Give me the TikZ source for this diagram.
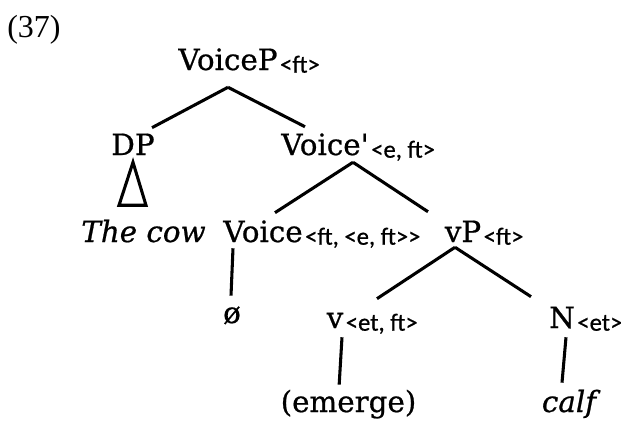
\documentclass[tikz,border=0pt]{standalone}
\usepackage{fontspec}
\setmainfont{DejaVu Serif}[FakeBold=0.7]
\newfontfamily\typefont{Carlito}[FakeBold=0.7]
\newfontfamily\numfont{Liberation Serif}
\usetikzlibrary{positioning}

\tikzset{
  cat/.style={inner sep=0pt, anchor=base, text height=16pt, text depth=0pt,
    font=\fontsize{22}{26}\selectfont},
  word/.style={cat, font=\fontsize{22}{26}\selectfont\itshape},
  typ/.style={inner sep=0pt, anchor=base west, xshift=1.5pt, yshift=-2pt,
    font=\typefont\fontsize{18.5}{22}\selectfont},
  branch/.style={line width=2.3pt},
}

\begin{document}
\begin{tikzpicture}[x=0.75pt, y=-0.75pt]
    \useasboundingbox (0,0) rectangle (621,422);

    % numero of the example
    \node[anchor=base, inner sep=0pt, font=\numfont\fontsize{24}{28}\selectfont] (ex) at (34,37) {(37)};

    % =================================================================
    % 1. CATEGORY LABELS
    % =================================================================
    \node[cat] (voicep) at (228,70) {VoiceP};
    \node[cat] (dp) at (133,155) {DP};
    \node[cat] (voicebar) at (325,155) {Voice\textquotesingle};
    \node[word] (cow) at (143.5,242) {The cow};
    \node[cat] (voice) at (263,242) {Voice};
    \node[cat] (vp) at (463,242) {vP};
    \node[cat] (null) at (232,323) {ø};
    \node[cat] (v) at (335,328) {v};
    \node[cat] (n) at (562,328) {N};
    \node[cat] (emerge) at (348.5,412) {(emerge)};
    \node[word] (calf) at (569,412) {calf};

    % semantic types
    \node[typ] (voicep-t) at (voicep.base east) {<ft>};
    \node[typ] (voicebar-t) at (voicebar.base east) {<e, ft>};
    \node[typ] (voice-t) at (voice.base east) {<ft, <e, ft>>};
    \node[typ] (vp-t) at (vp.base east) {<ft>};
    \node[typ] (v-t) at (v.base east) {<et, ft>};
    \node[typ] (n-t) at (n.base east) {<et>};

    % =================================================================
    % 2. BRANCHES
    % =================================================================
    \draw[branch] ([yshift=-12.75pt]voicep.south) -- ([xshift=14.25pt, yshift=4.3pt]dp.north);
    \draw[branch] ([yshift=-12.75pt]voicep.south) -- ([xshift=-15pt, yshift=5pt]voicebar.north);
    % triangle under DP
    \draw[branch] ([yshift=-5.25pt]dp.south) -- ++(-14,43) -- ++(27,0) -- cycle;

    \draw[branch] ([xshift=21pt, yshift=-5.25pt]voicebar.south) -- ([xshift=9pt, yshift=5.8pt]voice.north);
    \draw[branch] ([xshift=21pt, yshift=-5.25pt]voicebar.south) -- ([xshift=-26.25pt, yshift=6.5pt]vp.north);
    \draw[branch] ([xshift=-22.5pt, yshift=-4.5pt]voice.south) -- ([xshift=-0.75pt, yshift=4.3pt]null.north);

    \draw[branch] ([xshift=-6pt, yshift=-3.75pt]vp.south) -- ([xshift=31.5pt, yshift=5.8pt]v.north);
    \draw[branch] ([xshift=-6pt, yshift=-3.75pt]vp.south) -- ([xshift=-23.25pt, yshift=7.3pt]n.north);
    \draw[branch] ([xshift=5.25pt, yshift=-6.75pt]v.south) -- ([xshift=-7pt, yshift=4.3pt]emerge.north);
    \draw[branch] ([xshift=3pt, yshift=-6.75pt]n.south) -- ([xshift=-5.25pt, yshift=5.8pt]calf.north);

\end{tikzpicture}
\end{document}
